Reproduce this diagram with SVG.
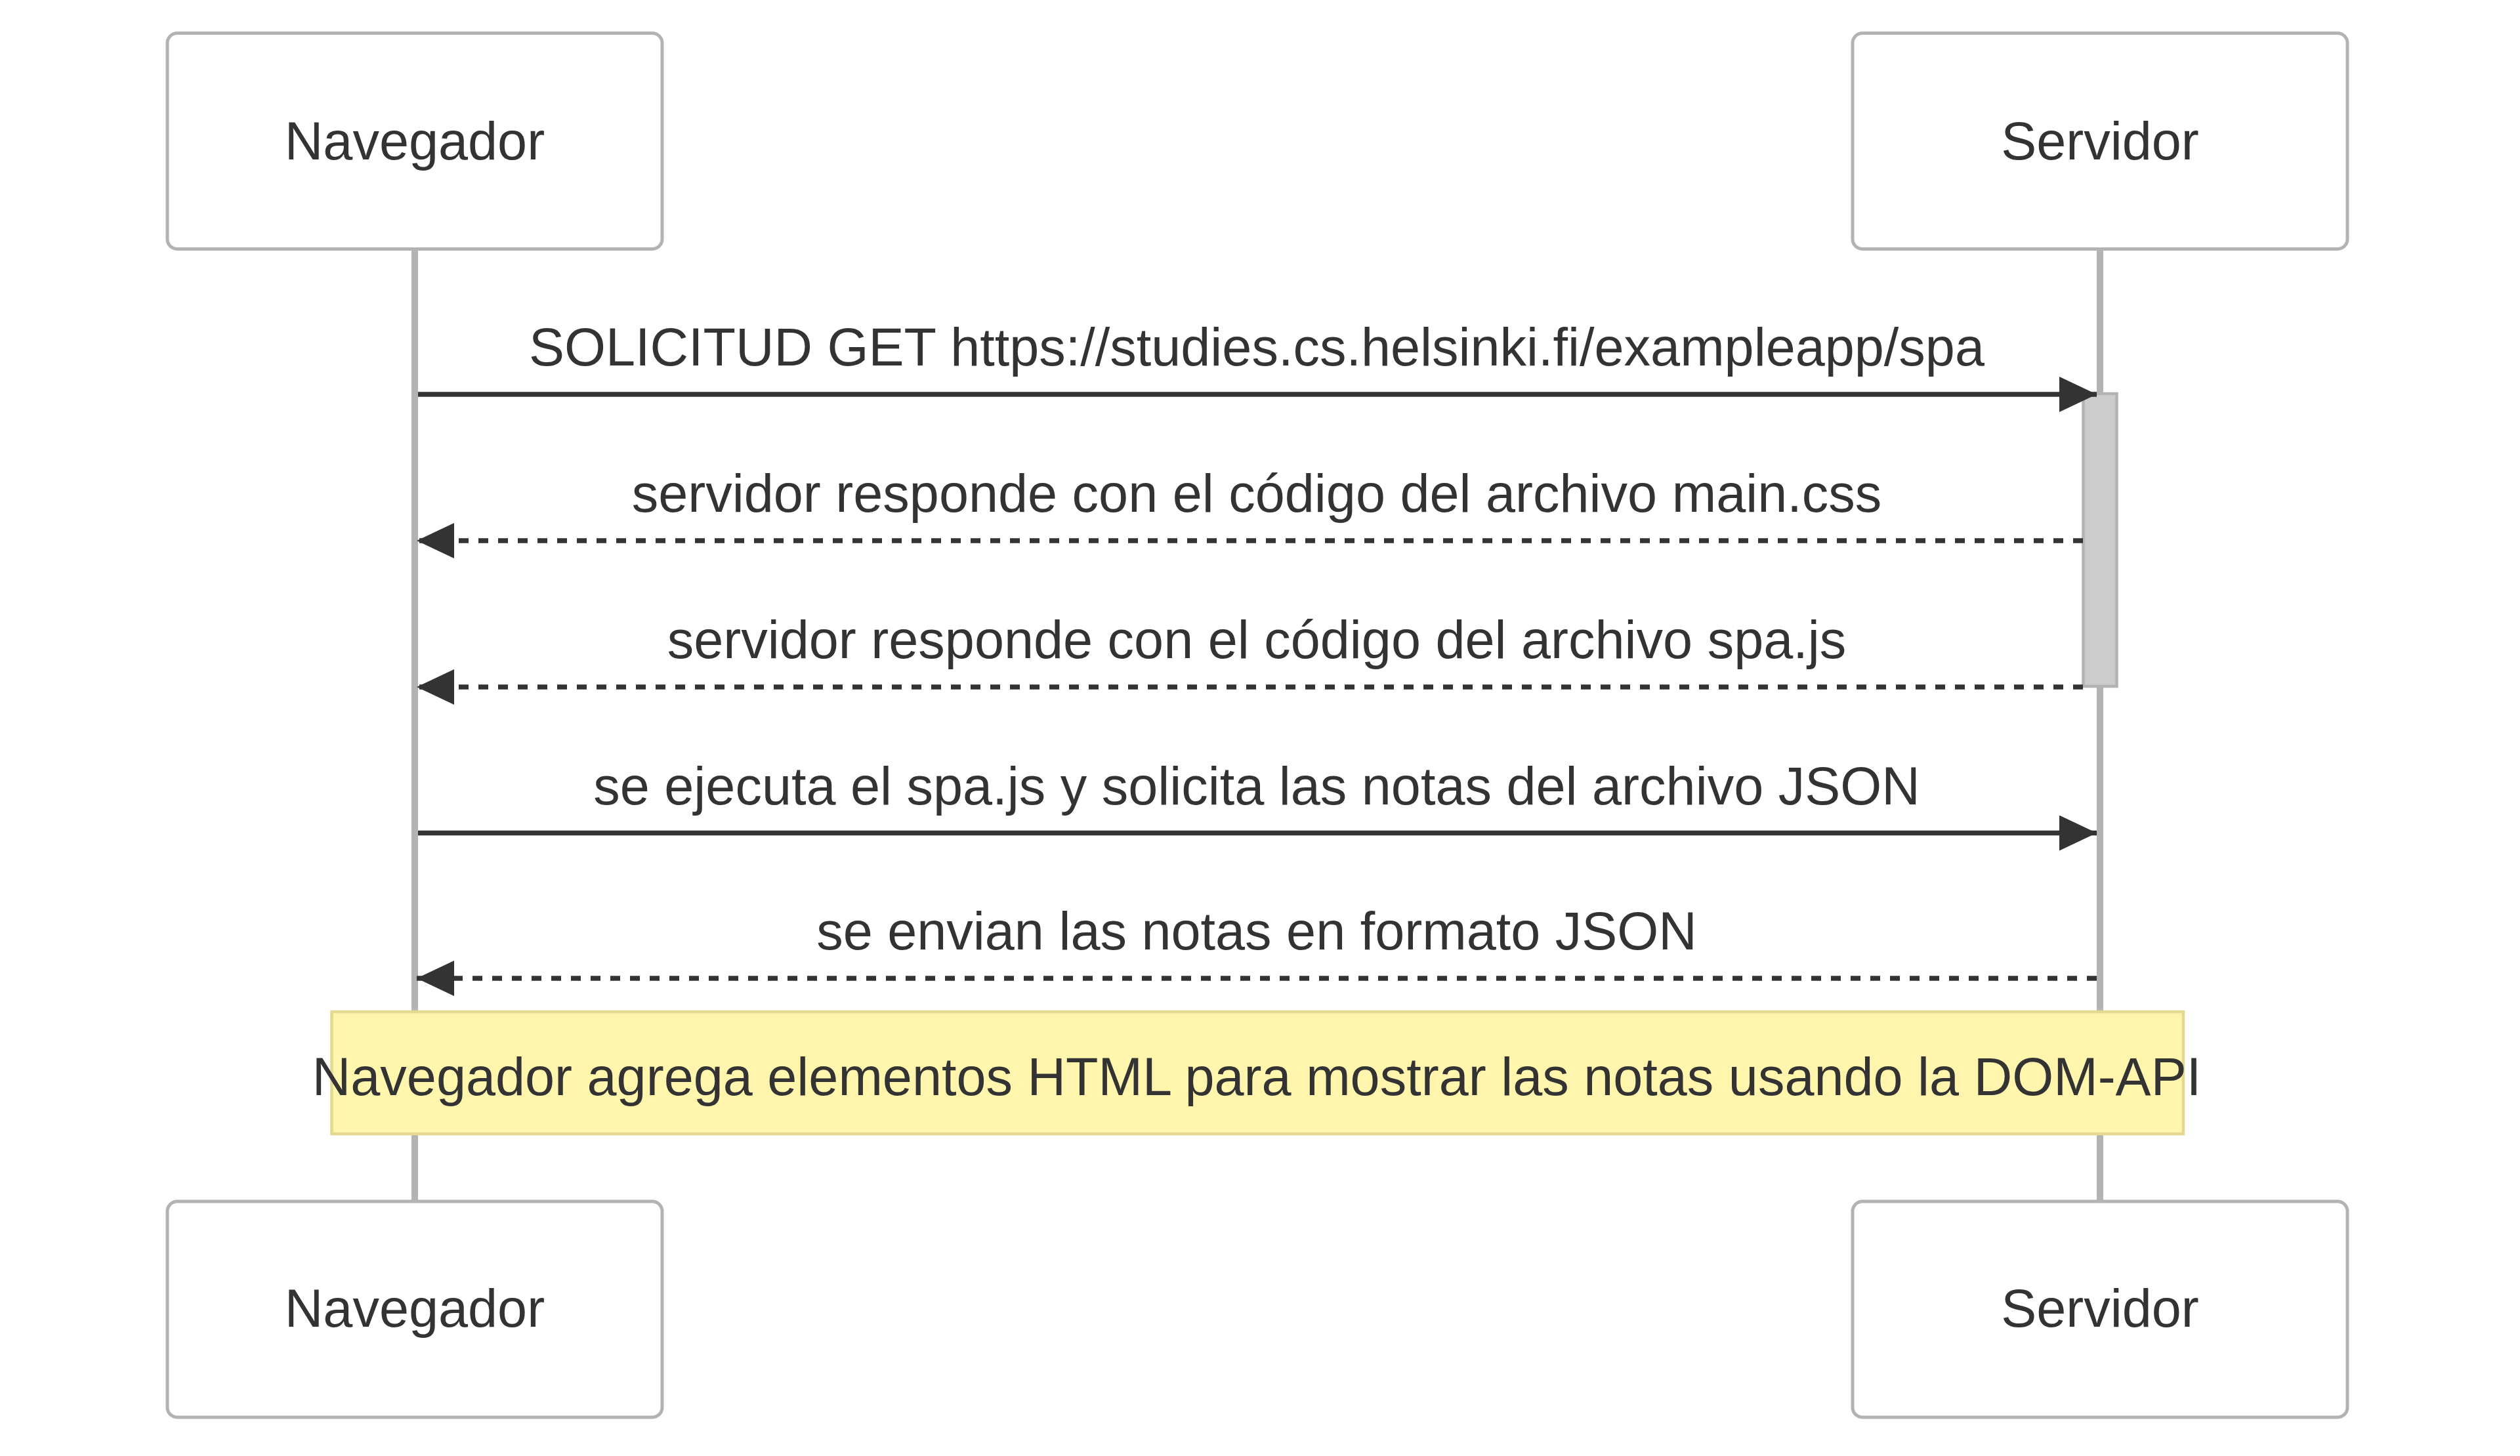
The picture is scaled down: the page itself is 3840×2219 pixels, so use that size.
<svg xmlns="http://www.w3.org/2000/svg" width="3840" height="2219" viewBox="0 0 3840 2219">
<style>
.actor{fill:#ffffff;stroke:#b3b3b3;stroke-width:5}
.life{stroke:#b3b3b3;stroke-width:10}
.txt{font-family:"Liberation Sans",Arial,sans-serif;font-size:81px;fill:#333333;text-anchor:middle}
.msg{stroke:#333333;stroke-width:7.6;fill:none}
.dash{stroke-dasharray:15 15}
.act{fill:#cccccc;stroke:#b3b3b3;stroke-width:4.5}
.note{fill:#fff5ad;stroke:#e3d98f;stroke-width:4.5}
</style>
<defs>
<marker id="arrow" markerUnits="userSpaceOnUse" markerWidth="58" markerHeight="54" refX="57" refY="27" orient="auto" viewBox="0 0 58 54">
<path d="M0,0 L57,27 L0,54 z" fill="#333333"/>
</marker>
</defs>
<rect width="3840" height="2219" fill="#ffffff"/>
<g id="lifelines">
<line class="life" x1="632" y1="380" x2="632" y2="1831"/>
<line class="life" x1="3200" y1="380" x2="3200" y2="1831"/>
</g>
<g id="navegador-top">
<rect class="actor" x="255" y="50.5" width="754" height="329" rx="15" ry="15"/>
<text class="txt" x="632" y="243">Navegador</text>
</g>
<g id="servidor-top">
<rect class="actor" x="2823" y="50.5" width="754" height="329" rx="15" ry="15"/>
<text class="txt" x="3200" y="243">Servidor</text>
</g>
<g id="navegador-bottom">
<rect class="actor" x="255" y="1831" width="754" height="329" rx="15" ry="15"/>
<text class="txt" x="632" y="2022">Navegador</text>
</g>
<g id="servidor-bottom">
<rect class="actor" x="2823" y="1831" width="754" height="329" rx="15" ry="15"/>
<text class="txt" x="3200" y="2022">Servidor</text>
</g>
<g id="activation">
<rect class="act" x="3174.5" y="600" width="51" height="446"/>
</g>
<g id="connectors">
<line class="msg" x1="637" y1="601" x2="3195" y2="601" marker-end="url(#arrow)"/>
<text class="txt" x="1915" y="557">SOLICITUD GET https://studies.cs.helsinki.fi/exampleapp/spa</text>
<line class="msg dash" x1="3174" y1="824" x2="635" y2="824" marker-end="url(#arrow)"/>
<text class="txt" x="1915" y="780">servidor responde con el código del archivo main.css</text>
<line class="msg dash" x1="3174" y1="1047" x2="635" y2="1047" marker-end="url(#arrow)"/>
<text class="txt" x="1915" y="1003">servidor responde con el código del archivo spa.js</text>
<line class="msg" x1="637" y1="1269.5" x2="3195" y2="1269.5" marker-end="url(#arrow)"/>
<text class="txt" x="1915" y="1226">se ejecuta el spa.js y solicita las notas del archivo JSON</text>
<line class="msg dash" x1="3195" y1="1491" x2="635" y2="1491" marker-end="url(#arrow)"/>
<text class="txt" x="1915" y="1447">se envian las notas en formato JSON</text>
</g>
<g id="note">
<rect class="note" x="505.5" y="1542" width="2821.5" height="186"/>
<text class="txt" x="1915" y="1669">Navegador agrega elementos HTML para mostrar las notas usando la DOM-API</text>
</g>
</svg>
